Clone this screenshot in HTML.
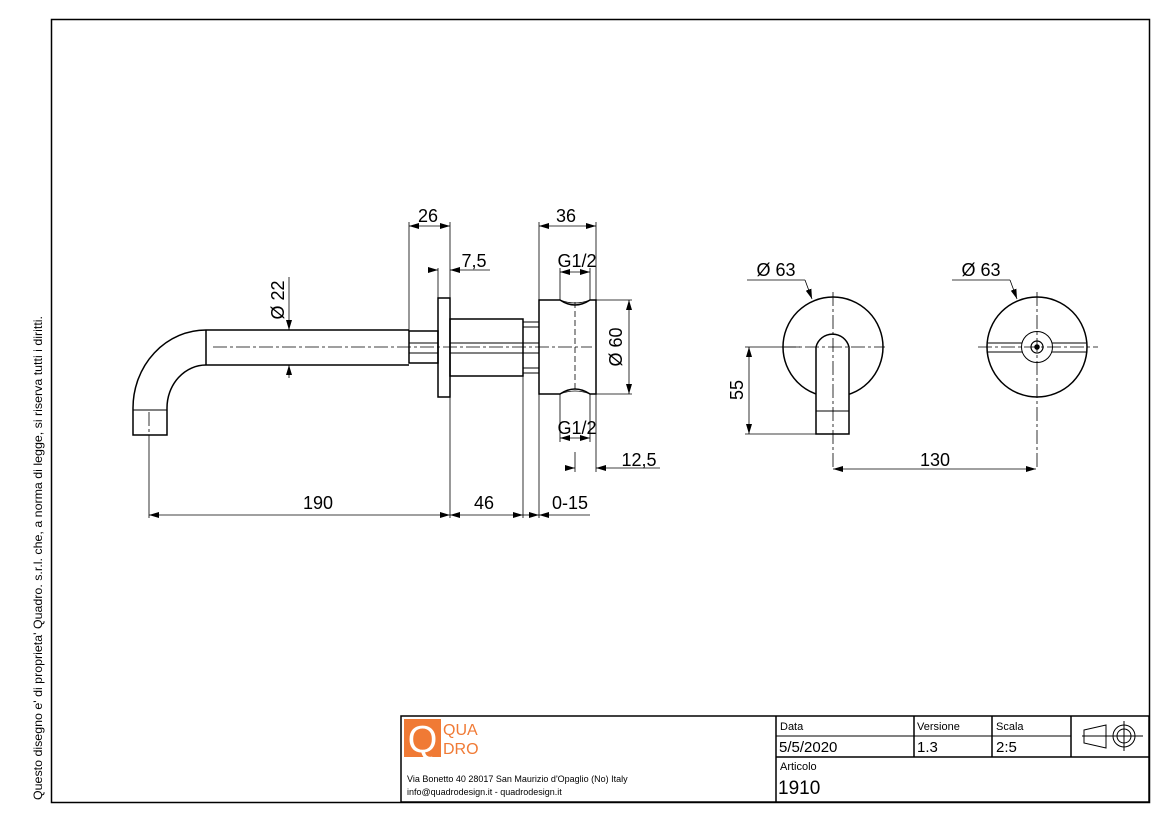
<!DOCTYPE html>
<html><head><meta charset="utf-8"><style>
html,body{margin:0;padding:0;background:#fff}
svg{display:block}
text{font-family:"Liberation Sans",sans-serif;fill:#000}
</style></head><body>
<svg width="1169" height="826" viewBox="0 0 1169 826" xmlns="http://www.w3.org/2000/svg">
<defs>
<marker id="a" viewBox="0 0 10 6" refX="10" refY="3" markerWidth="10" markerHeight="6" orient="auto-start-reverse" markerUnits="userSpaceOnUse"><path d="M0,0 L10,3 L0,6 z" fill="#000"/></marker>
</defs>
<rect x="51.5" y="19.5" width="1098" height="783" fill="none" stroke="#000" stroke-width="1.5"/>
<text transform="translate(42,800) rotate(-90)" font-size="12" textLength="484" lengthAdjust="spacingAndGlyphs">Questo disegno e' di proprieta' Quadro. s.r.l. che, a norma di legge, si riserva tutti i diritti.</text>

<g fill="none" stroke="#000" stroke-width="1.5">
<path d="M206,330 L409,330 M206,365 L409,365 M206,330 L206,365"/>
<path d="M206,330 A73,78 0 0 0 133,408 L133,435 L167,435 L167,408 A39,43 0 0 1 206,365"/>
<line x1="133" y1="410" x2="167" y2="410" stroke-width="1"/>
<rect x="409" y="331" width="29" height="32"/>
<path d="M409,343 H438 M409,353 H438" stroke-width="1"/>
<rect x="438" y="298" width="12" height="99"/>
<rect x="450" y="319" width="73" height="57"/>
<path d="M450,343 H539 M450,353 H539" stroke-width="1"/>
<rect x="523" y="322" width="16" height="5" stroke-width="1"/>
<rect x="523" y="368" width="16" height="5" stroke-width="1"/>
<path d="M539,300 H560 Q575,310 590,300 H596 V394 H590 Q575,384 560,394 H539 Z"/>
<path d="M560,300 Q575,306 590,300 M560,394 Q575,388 590,394" stroke-width="0.8"/>
</g>
<g stroke="#000" stroke-width="0.8" fill="none" stroke-dasharray="14,3,3,3">
<line x1="213" y1="347" x2="592" y2="347"/>
<line x1="149" y1="412" x2="149" y2="440"/>
<line x1="575" y1="302" x2="575" y2="392" stroke-dasharray="6,3"/>
</g>
<g stroke="#000" stroke-width="0.8" fill="none">
<path d="M409,222 V331 M450,222 V298 M450,397 V518 M438,268 V298 M539,222 V300 M596,222 V300 M523,376 V518 M539,394 V518 M149,440 V518 M560,268 V300 M590,268 V300 M560,394 V442 M590,394 V442 M596,300 H632 M596,394 H632 M596,394 V472 M575,452 V472"/>
<line x1="409" y1="226" x2="450" y2="226" marker-start="url(#a)" marker-end="url(#a)"/>
<line x1="539" y1="226" x2="596" y2="226" marker-start="url(#a)" marker-end="url(#a)"/>
<line x1="428" y1="270" x2="438" y2="270" marker-end="url(#a)"/>
<line x1="490" y1="270" x2="450" y2="270" marker-end="url(#a)"/>
<line x1="560" y1="272" x2="590" y2="272" marker-start="url(#a)" marker-end="url(#a)"/>
<line x1="560" y1="438" x2="590" y2="438" marker-start="url(#a)" marker-end="url(#a)"/>
<line x1="629" y1="300" x2="629" y2="394" marker-start="url(#a)" marker-end="url(#a)"/>
<line x1="289" y1="277" x2="289" y2="330" marker-end="url(#a)"/>
<line x1="289" y1="378" x2="289" y2="365" marker-end="url(#a)"/>
<line x1="565" y1="468" x2="575" y2="468" marker-end="url(#a)"/>
<line x1="660" y1="468" x2="596" y2="468" marker-end="url(#a)"/>
<line x1="149" y1="515" x2="450" y2="515" marker-start="url(#a)" marker-end="url(#a)"/>
<line x1="450" y1="515" x2="523" y2="515" marker-start="url(#a)" marker-end="url(#a)"/>
<line x1="523" y1="515" x2="539" y2="515" marker-end="url(#a)"/>
<line x1="590" y1="515" x2="539" y2="515" marker-end="url(#a)"/>
</g>
<g font-size="18" text-anchor="middle">
<text x="428" y="222">26</text>
<text x="474" y="267">7,5</text>
<text x="566" y="222">36</text>
<text x="577" y="267">G1/2</text>
<text x="577" y="434">G1/2</text>
<text x="639" y="466">12,5</text>
<text x="318" y="509">190</text>
<text x="484" y="509">46</text>
<text x="570" y="509">0-15</text>
<text transform="translate(622,347) rotate(-90)">Ø 60</text>
<text transform="translate(284,300) rotate(-90)">Ø 22</text>
<text transform="translate(743,390) rotate(-90)">55</text>
<text x="776" y="276">Ø 63</text>
<text x="981" y="276">Ø 63</text>
<text x="935" y="466">130</text>
</g>

<g fill="none" stroke="#000" stroke-width="1.5">
<circle cx="833" cy="347" r="50"/>
<path d="M816,434 V347 A17,17 0 0 1 849,347 V434 Z" fill="#fff"/>
<line x1="816" y1="411" x2="849" y2="411" stroke-width="1"/>
<circle cx="1037" cy="347" r="50"/>
<circle cx="1037" cy="347" r="15.5" stroke-width="1"/>
<circle cx="1037" cy="347" r="6" stroke-width="1.2"/>
<circle cx="1037" cy="347" r="2" fill="#000"/>
<path d="M988,343 H1022 M988,352 H1022 M1052,343 H1086 M1052,352 H1086" stroke-width="1"/>
</g>
<g stroke="#000" stroke-width="0.8" fill="none" stroke-dasharray="14,3,3,3">
<line x1="782" y1="347" x2="885" y2="347"/>
<line x1="833" y1="292" x2="833" y2="470"/>
<line x1="978" y1="347" x2="1098" y2="347"/>
<line x1="1037" y1="292" x2="1037" y2="470"/>
</g>
<g stroke="#000" stroke-width="0.8" fill="none">
<path d="M745,347 H800 M745,434 H816"/>
<line x1="749" y1="347" x2="749" y2="434" marker-start="url(#a)" marker-end="url(#a)"/>
<line x1="833" y1="469" x2="1036" y2="469" marker-start="url(#a)" marker-end="url(#a)"/>
<path d="M747,280 H805"/><line x1="805" y1="280" x2="812" y2="299" marker-end="url(#a)"/>
<path d="M952,280 H1010"/><line x1="1010" y1="280" x2="1017" y2="299" marker-end="url(#a)"/>
</g>

<g fill="none" stroke="#000" stroke-width="1.5">
<rect x="401" y="716" width="748" height="86"/>
<path d="M776,716 V802 M914,716 V757 M992,716 V757 M1071,716 V757 M776,757 H1149"/>
<path d="M776,736 H1071" stroke-width="1"/>
<path d="M1084,730 L1106,725 V748 L1084,743 Z M1082,736 H1143 M1124,721 V751" stroke-width="1"/>
<circle cx="1124" cy="736" r="11" stroke-width="1"/>
<circle cx="1124" cy="736" r="7" stroke-width="1"/>
</g>
<rect x="404" y="719" width="37" height="38" fill="#f07a35"/>
<text x="422.5" y="752" font-size="38" text-anchor="middle" style="fill:#fff">Q</text>
<text x="443" y="735" font-size="16" style="fill:#f07a35">QUA</text>
<text x="443" y="754" font-size="16" style="fill:#f07a35">DRO</text>
<text x="407" y="782" font-size="9">Via Bonetto 40  28017 San Maurizio d'Opaglio (No) Italy</text>
<text x="407" y="795" font-size="9">info@quadrodesign.it  -  quadrodesign.it</text>
<text x="780" y="730" font-size="11">Data</text>
<text x="917" y="730" font-size="11">Versione</text>
<text x="996" y="730" font-size="11">Scala</text>
<text x="779" y="752" font-size="15">5/5/2020</text>
<text x="917" y="752" font-size="15">1.3</text>
<text x="996" y="752" font-size="15">2:5</text>
<text x="780" y="770" font-size="11">Articolo</text>
<text x="778" y="794" font-size="19">1910</text>
</svg>
</body></html>
